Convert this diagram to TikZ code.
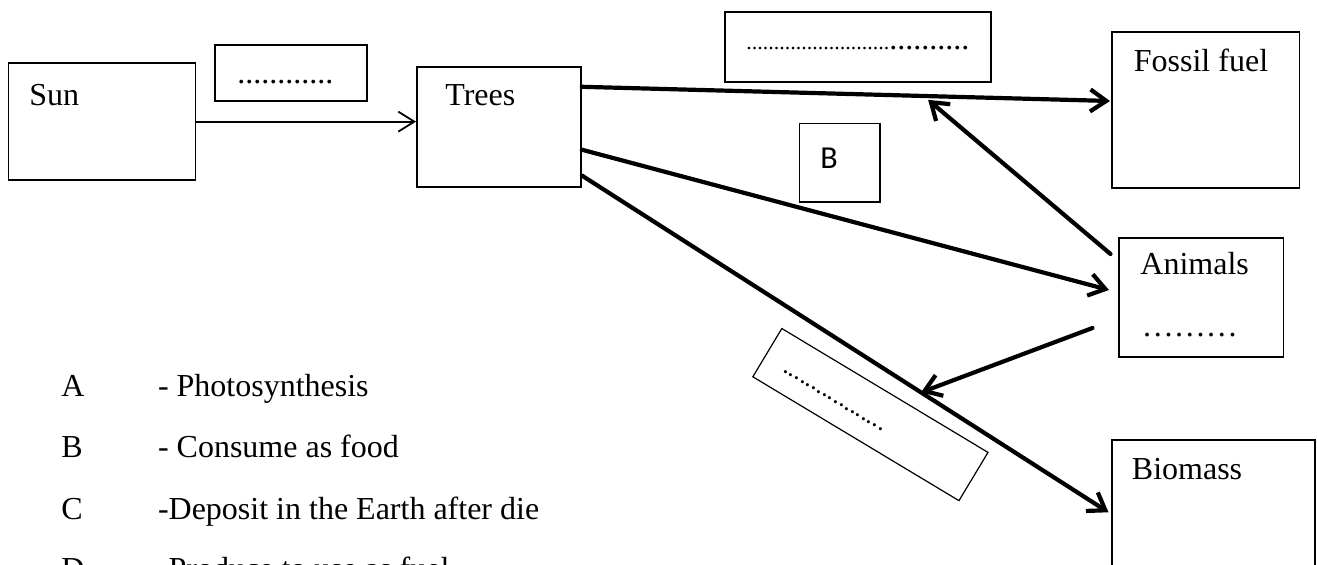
\documentclass[tikz,border=0pt]{standalone}
\usepackage{fontspec}
\setmainfont{Liberation Serif}
\newfontfamily\calibrifont{Carlito}
\usetikzlibrary{arrows.meta,calc}

\begin{document}
\begin{tikzpicture}[x=0.5pt,y=-0.5pt, % one unit = one pixel of the sheet
   every node/.style={font=\fontsize{16}{19}\selectfont,inner sep=0pt},
   box/.style={draw,line width=0.9pt,anchor=north west},
   lbl/.style={anchor=base west},
   thinarrow/.style={line width=0.9pt,-{Straight Barb[length=8pt,width=10pt]}},
   thickarrow/.style={line width=2.1pt,line cap=round,-{Straight Barb[length=8pt,width=11pt]}}]
   \clip (0,0) rectangle (1317,565);
   \node[box,minimum width=93.5pt,minimum height=58.25pt] (sun) at (7.6,62.5) {};
   \node[box,minimum width=76pt,minimum height=28.25pt] (blankA) at (214,44) {};
   \node[box,minimum width=82pt,minimum height=60pt] (trees) at (416,66.5) {};
   \node[box,minimum width=133pt,minimum height=35pt] (blankC) at (724,11) {};
   \node[box,minimum width=93.75pt,minimum height=78.25pt] (fossil) at (1111,31) {};
   \node[box,minimum width=40.25pt,minimum height=39.25pt] (blankB) at (798.5,122.7) {};
   \node[box,minimum width=82.25pt,minimum height=59.5pt] (animals) at (1118,237) {};
   \node[box,minimum width=101.5pt,minimum height=80pt] (biomass) at (1111,439.3) {};
   \node[draw,line width=0.6pt,minimum width=120.25pt,minimum height=28.15pt,rotate=-31] (blankD) at (870.4,414.6) {};
   % texts
   \node[lbl] (sunlbl) at (29,106) {Sun};
   \node[lbl] (treeslbl) at (445,106) {Trees};
   \node[lbl] (fossillbl) at (1133.5,71.7) {Fossil fuel};
   \node[lbl] (animalslbl) at (1140,275) {Animals};
   \node[lbl] (biomasslbl) at (1131.5,480) {Biomass};
   \node[lbl,font=\calibrifont\fontsize{16}{19}\selectfont] (Blbl) at (820,168.3) {B};
   \node[lbl] (dotsA) at (237,84) {............};
   \node[lbl] (dotsC) at (746,50) {{\fontsize{11}{13}\selectfont ..........................}..........};
   \node[lbl] (dotsanimals) at (1141.5,337) {………};
   \node[lbl,rotate=-31,font=\fontsize{13}{15}\selectfont] (dotsD) at (782,371) {..................};
   % arrows
   \draw[thinarrow] (sun.east) -- (sun.east -| trees.west);
   \draw[thickarrow] ($(trees.north east)+(0,20.3)$) -- coordinate[pos=0.647] (fossiljoin) ($(fossil.north west)+(-1,70)$);
   \draw[thickarrow] ($(trees.north east)+(0,83.2)$) -- ($(animals.north west)+(-9,53)$);
   \draw[thickarrow] ($(trees.north east)+(0,109)$) -- coordinate[pos=0.644] (biomassjoin) ($(biomass.north west)+(-2.5,73)$);
   \draw[thickarrow,shorten >=3pt] ($(animals.north west)+(-7.5,17)$) -- (fossiljoin);
   \draw[thickarrow] ($(animals.north west)+(-25.5,91)$) -- (biomassjoin);
   % key
   \node[lbl] (keyA) at (61,397) {A};
   \node[lbl] (descA) at (157.6,397) {- Photosynthesis};
   \node[lbl] (keyB) at (61,458) {B};
   \node[lbl] (descB) at (157.6,458) {- Consume as food};
   \node[lbl] (keyC) at (61,520) {C};
   \node[lbl] (descC) at (157.6,520) {-Deposit in the Earth after die};
   \node[lbl] (keyD) at (61,580) {D};
   \node[lbl] (descD) at (157.6,580) {-Produce to use as fuel};
\end{tikzpicture}
\end{document}
